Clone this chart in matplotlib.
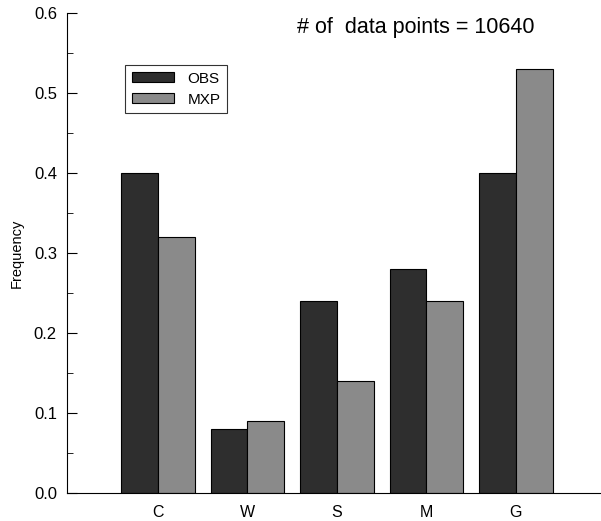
import matplotlib
matplotlib.use('Agg')
import matplotlib.pyplot as plt
import numpy as np
from matplotlib.ticker import MultipleLocator

plt.rcParams['font.family'] = ['Liberation Sans', 'DejaVu Sans']

categories = ['C', 'W', 'S', 'M', 'G']
obs = [0.40, 0.08, 0.24, 0.28, 0.40]
mxp = [0.32, 0.09, 0.14, 0.24, 0.53]
n_points = 10640

fig = plt.figure(figsize=(6.01, 5.21), dpi=100)
ax = fig.add_axes([0.111, 0.054, 0.889, 0.921])

x = np.arange(len(categories))
w = 0.41
ax.bar(x - w / 2, obs, w, color='#2e2e2e', edgecolor='black', linewidth=0.8, label='OBS')
ax.bar(x + w / 2, mxp, w, color='#8a8a8a', edgecolor='black', linewidth=0.8, label='MXP')

ax.set_xlim(-1.02, 4.95)
ax.set_ylim(0, 0.6)
ax.set_xticks(x)
ax.set_xticklabels(categories, fontsize=11.5)
ax.tick_params(axis='x', length=0, pad=9)
ax.yaxis.set_major_locator(MultipleLocator(0.1))
ax.yaxis.set_minor_locator(MultipleLocator(0.05))
ax.yaxis.set_major_formatter(matplotlib.ticker.FormatStrFormatter('%.1f'))
ax.tick_params(axis='y', which='major', direction='in', length=7, labelsize=12, pad=7)
ax.tick_params(axis='y', which='minor', direction='in', length=4)
ax.spines['top'].set_visible(False)
ax.spines['right'].set_visible(False)
ax.set_ylabel('Frequency', fontsize=10.5, labelpad=7)

ax.text(0.431, 0.969, f'# of  data points = {n_points}', transform=ax.transAxes,
        fontsize=15.5, va='center', ha='left')

leg = ax.legend(loc='upper left', bbox_to_anchor=(0.11, 0.892), fontsize=11,
                frameon=True, fancybox=False, edgecolor='black', handlelength=2.7,
                handleheight=0.6, borderpad=0.45, labelspacing=0.45,
                handletextpad=0.9, borderaxespad=0)
leg.get_frame().set_linewidth(0.8)

plt.savefig('out.png', dpi=100)
